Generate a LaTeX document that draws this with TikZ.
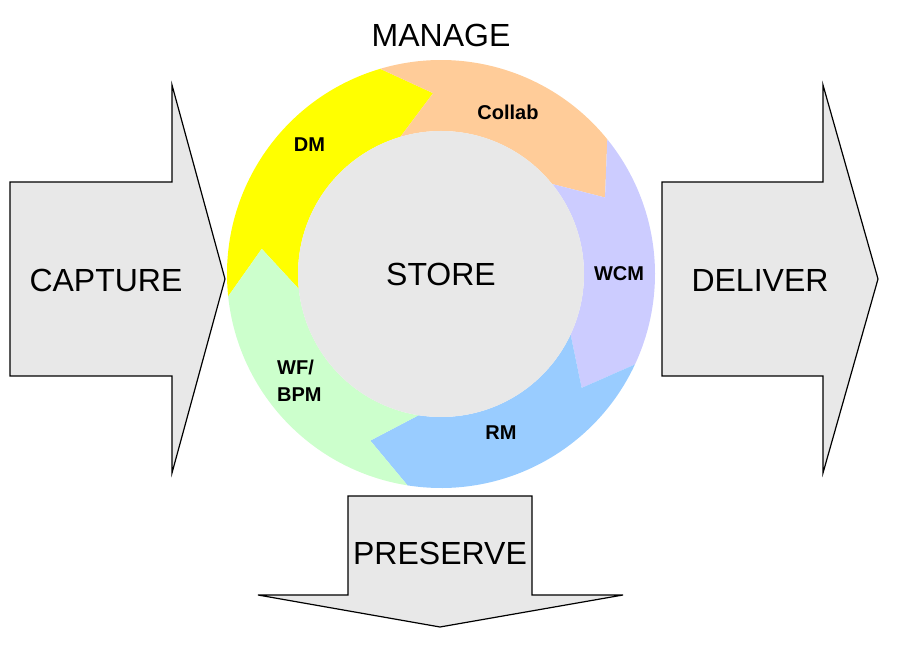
\documentclass[tikz,border=0pt]{standalone}
\usepackage{fontspec}
\setmainfont{Liberation Sans}
\usetikzlibrary{positioning}
\definecolor{dmyellow}{HTML}{FFFF00}
\definecolor{collabpeach}{HTML}{FFCC99}
\definecolor{wcmlilac}{HTML}{CCCCFF}
\definecolor{rmblue}{HTML}{99CCFF}
\definecolor{wfgreen}{HTML}{CCFFCC}
\definecolor{storegray}{HTML}{E8E8E8}
\tikzset{
  flowarrow/.style={draw=black,fill=storegray,line width=1.2pt,line join=miter},
  bigtext/.style={font=\fontsize{32}{38}\selectfont,inner sep=0pt},
  segtext/.style={font=\fontsize{20}{27}\selectfont\bfseries,inner sep=0pt}
}

\begin{document}
\begin{tikzpicture}[x=1pt,y=1pt]
    \useasboundingbox (0,0) rectangle (900,645);
    %Capture
    \draw[flowarrow] (10,269) -- (172,269) -- (172,172) -- (225,366) -- (172,560) -- (172,463) -- (10,463) -- cycle;
    \node[bigtext] (capture) at (106,365) {CAPTURE};
    %Deliver
    \draw[flowarrow] (662,269) -- (823,269) -- (823,172) -- (878,366) -- (823,560) -- (823,463) -- (662,463) -- cycle;
    \node[bigtext] (deliver) at (760,365) {DELIVER};
    %Preserve
    \draw[flowarrow] (348,149) -- (532,149) -- (532,50) -- (623,50) -- (440,18) -- (258,50) -- (348,50) -- cycle;
    \node[bigtext] (preserve) at (440,92) {PRESERVE};
    %Manage
    \node[bigtext] (manage) at (441,610) {MANAGE};
    %Ring
    \begin{scope}[shift={(441,371)}]
    %DM
    \fill[dmyellow] (186:214) arc[start angle=186,end angle=106.5,radius=214] -- (92.5:181)
        -- (106.5:143) arc[start angle=106.5,end angle=186,radius=143] -- (172:181) -- cycle;
    %Collab
    \fill[collabpeach] (106.5:214) arc[start angle=106.5,end angle=39,radius=214] -- (25:181)
        -- (39:143) arc[start angle=39,end angle=106.5,radius=143] -- (92.5:181) -- cycle;
    %WCM
    \fill[wcmlilac] (39:214) arc[start angle=39,end angle=-25,radius=214] -- (-39:181)
        -- (-25:143) arc[start angle=-25,end angle=39,radius=143] -- (25:181) -- cycle;
    %RM
    \fill[rmblue] (-25:214) arc[start angle=-25,end angle=-99,radius=214] -- (-113:181)
        -- (-99:143) arc[start angle=-99,end angle=-25,radius=143] -- (-39:181) -- cycle;
    %WF/BPM
    \fill[wfgreen] (-99:214) arc[start angle=-99,end angle=-174,radius=214] -- (-188:181)
        -- (-174:143) arc[start angle=-174,end angle=-99,radius=143] -- (-113:181) -- cycle;
    \end{scope}
    %Store
    \node[circle,fill=storegray,minimum size=286pt,inner sep=0pt,font=\fontsize{32}{38}\selectfont] (store) at (441,371) {STORE};
    %Labels
    \node[segtext] (dm) at (309.5,500) {DM};
    \node[segtext] (collab) at (508,533) {Collab};
    \node[segtext] (wcm) at (619,371) {WCM};
    \node[segtext] (rm) at (501,212) {RM};
    \node[segtext,anchor=west,align=left] (wfbpm) at (277,264) {WF/\\BPM};
\end{tikzpicture}
\end{document}
